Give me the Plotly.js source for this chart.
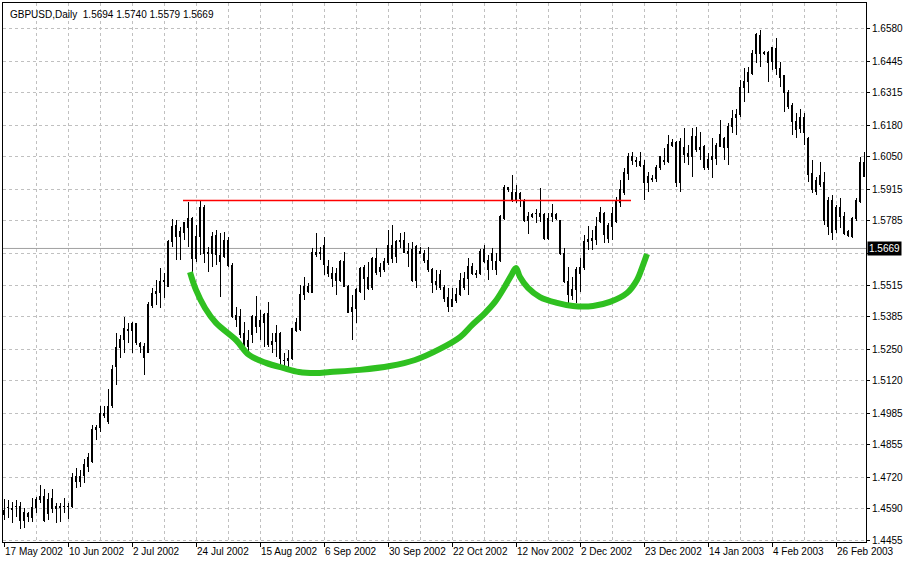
<!DOCTYPE html>
<html>
<head>
<meta charset="utf-8">
<script src="https://cdn.plot.ly/plotly-3.0.1.min.js"></script>
<style>
html,body{margin:0;padding:0;background:#fff;}
#chart{width:907px;height:562px;}
.boxlayer path{shape-rendering:crispEdges;}
</style>
</head>
<body>
<div id="chart"></div>
<script>
// Daily GBPUSD bars, 17 May 2002 .. early Mar 2003 (bar index 0..215)
const openP = [
1.4563,1.4592,1.4588,1.4596,1.4596,1.4542,1.4567,1.4551,1.4592,1.4629,
1.4638,1.4571,1.4633,1.4596,1.4592,1.4596,1.4598,1.4596,1.4721,1.4700,
1.4725,1.4762,1.4783,1.4924,1.4924,1.4986,1.4949,1.5019,1.5177,1.5256,
1.5293,1.5331,1.5327,1.5356,1.5273,1.5260,1.5239,1.5434,1.5480,1.5488,
1.5530,1.5513,1.5696,1.5766,1.5717,1.5737,1.5754,1.5795,1.5629,1.5717,
1.5841,1.5654,1.5646,1.5721,1.5638,1.5634,1.5704,1.5600,1.5389,1.5385,
1.5318,1.5289,1.5310,1.5385,1.5343,1.5360,1.5401,1.5281,1.5281,1.5318,
1.5206,1.5202,1.5214,1.5327,1.5331,1.5476,1.5492,1.5488,1.5642,1.5646,
1.5683,1.5592,1.5567,1.5563,1.5538,1.5613,1.5509,1.5409,1.5418,1.5492,
1.5588,1.5550,1.5505,1.5629,1.5575,1.5580,1.5609,1.5683,1.5634,1.5704,
1.5704,1.5650,1.5663,1.5538,1.5658,1.5650,1.5621,1.5580,1.5530,1.5559,
1.5505,1.5467,1.5430,1.5455,1.5476,1.5546,1.5546,1.5596,1.5567,1.5567,
1.5663,1.5621,1.5650,1.5580,1.5621,1.5795,1.5920,1.5870,1.5903,1.5878,
1.5870,1.5787,1.5800,1.5816,1.5816,1.5808,1.5712,1.5816,1.5795,1.5783,
1.5650,1.5530,1.5472,1.5497,1.5567,1.5588,1.5696,1.5700,1.5708,1.5779,
1.5816,1.5712,1.5762,1.5779,1.5858,1.5903,1.5982,1.6032,1.6036,1.6028,
1.6015,1.5941,1.5957,1.5961,1.6003,1.6036,1.6028,1.6107,1.6107,1.5941,
1.6090,1.6065,1.6049,1.6132,1.6086,1.6094,1.6003,1.6049,1.6044,1.6094,
1.6127,1.6090,1.6177,1.6214,1.6223,1.6339,1.6360,1.6397,1.6480,1.6551,
1.6476,1.6484,1.6443,1.6497,1.6414,1.6385,1.6318,1.6264,1.6194,1.6165,
1.6214,1.6127,1.5982,1.5907,1.5970,1.5941,1.5758,1.5870,1.5746,1.5837,
1.5800,1.5741,1.5717,1.5795,1.5862,1.6024];
const highP = [
1.4630,1.4625,1.4617,1.4625,1.4617,1.4592,1.4575,1.4633,1.4638,1.4687,
1.4671,1.4654,1.4671,1.4613,1.4613,1.4633,1.4613,1.4737,1.4758,1.4750,
1.4795,1.4820,1.4936,1.4936,1.5015,1.5015,1.5086,1.5185,1.5319,1.5310,
1.5385,1.5360,1.5364,1.5360,1.5281,1.5277,1.5447,1.5505,1.5538,1.5588,
1.5567,1.5704,1.5791,1.5787,1.5758,1.5779,1.5862,1.5800,1.5766,1.5870,
1.5849,1.5675,1.5737,1.5746,1.5733,1.5737,1.5717,1.5609,1.5426,1.5418,
1.5364,1.5331,1.5393,1.5472,1.5414,1.5401,1.5447,1.5318,1.5351,1.5322,
1.5235,1.5248,1.5339,1.5380,1.5517,1.5550,1.5526,1.5671,1.5733,1.5675,
1.5717,1.5621,1.5592,1.5588,1.5621,1.5654,1.5517,1.5476,1.5505,1.5592,
1.5600,1.5613,1.5634,1.5671,1.5609,1.5629,1.5746,1.5766,1.5704,1.5733,
1.5737,1.5692,1.5696,1.5683,1.5675,1.5663,1.5675,1.5588,1.5580,1.5580,
1.5517,1.5505,1.5505,1.5505,1.5567,1.5571,1.5629,1.5609,1.5580,1.5667,
1.5683,1.5642,1.5671,1.5650,1.5808,1.5932,1.5924,1.5974,1.5932,1.5903,
1.5874,1.5820,1.5816,1.5833,1.5920,1.5816,1.5816,1.5853,1.5816,1.5787,
1.5671,1.5592,1.5550,1.5592,1.5629,1.5725,1.5762,1.5746,1.5800,1.5841,
1.5820,1.5775,1.5841,1.5882,1.5953,1.6003,1.6065,1.6069,1.6049,1.6069,
1.6036,1.5986,1.5974,1.6015,1.6049,1.6086,1.6140,1.6123,1.6115,1.6127,
1.6169,1.6098,1.6169,1.6173,1.6152,1.6098,1.6065,1.6127,1.6107,1.6202,
1.6131,1.6190,1.6244,1.6248,1.6368,1.6418,1.6422,1.6493,1.6563,1.6575,
1.6488,1.6488,1.6505,1.6542,1.6443,1.6389,1.6327,1.6273,1.6231,1.6248,
1.6231,1.6131,1.6036,1.5966,1.6028,1.5986,1.5882,1.5891,1.5849,1.5878,
1.5820,1.5746,1.5800,1.5878,1.6049,1.6069];
const lowP = [
1.4542,1.4551,1.4530,1.4555,1.4505,1.4509,1.4534,1.4534,1.4571,1.4613,
1.4534,1.4542,1.4571,1.4530,1.4534,1.4571,1.4546,1.4592,1.4675,1.4679,
1.4696,1.4741,1.4779,1.4874,1.4907,1.4965,1.4940,1.5007,1.5102,1.5214,
1.5235,1.5277,1.5235,1.5269,1.5235,1.5144,1.5235,1.5422,1.5434,1.5422,
1.5463,1.5509,1.5675,1.5621,1.5621,1.5704,1.5675,1.5571,1.5613,1.5642,
1.5609,1.5571,1.5592,1.5600,1.5468,1.5629,1.5592,1.5381,1.5343,1.5297,
1.5252,1.5239,1.5277,1.5318,1.5289,1.5260,1.5260,1.5235,1.5218,1.5177,
1.5177,1.5177,1.5206,1.5322,1.5327,1.5455,1.5484,1.5484,1.5634,1.5621,
1.5559,1.5550,1.5509,1.5476,1.5530,1.5509,1.5401,1.5289,1.5360,1.5484,
1.5455,1.5497,1.5497,1.5559,1.5550,1.5571,1.5600,1.5609,1.5609,1.5671,
1.5650,1.5592,1.5530,1.5505,1.5646,1.5609,1.5571,1.5484,1.5497,1.5497,
1.5447,1.5405,1.5426,1.5443,1.5472,1.5497,1.5476,1.5559,1.5546,1.5559,
1.5609,1.5538,1.5580,1.5559,1.5613,1.5787,1.5903,1.5862,1.5858,1.5841,
1.5779,1.5729,1.5795,1.5775,1.5779,1.5704,1.5704,1.5779,1.5787,1.5642,
1.5526,1.5443,1.5455,1.5443,1.5488,1.5580,1.5663,1.5663,1.5683,1.5775,
1.5692,1.5692,1.5704,1.5775,1.5841,1.5891,1.5953,1.6015,1.6007,1.6007,
1.5870,1.5903,1.5945,1.5945,1.5995,1.6015,1.6024,1.6090,1.5924,1.5903,
1.6024,1.6015,1.5966,1.6069,1.6036,1.5995,1.5995,1.5961,1.6015,1.6090,
1.6036,1.6015,1.6148,1.6140,1.6214,1.6277,1.6314,1.6389,1.6439,1.6422,
1.6472,1.6360,1.6410,1.6389,1.6339,1.6235,1.6248,1.6140,1.6127,1.6148,
1.6098,1.5945,1.5899,1.5891,1.5924,1.5766,1.5725,1.5704,1.5733,1.5754,
1.5725,1.5717,1.5712,1.5783,1.5858,1.5966];
const closeP = [
1.4580,1.4595,1.4586,1.4598,1.4542,1.4575,1.4555,1.4592,1.4629,1.4638,
1.4538,1.4629,1.4588,1.4588,1.4596,1.4598,1.4600,1.4717,1.4700,1.4721,
1.4774,1.4803,1.4916,1.4916,1.4986,1.4974,1.5015,1.5165,1.5256,1.5293,
1.5335,1.5327,1.5356,1.5277,1.5260,1.5218,1.5438,1.5480,1.5492,1.5530,
1.5538,1.5696,1.5762,1.5717,1.5741,1.5775,1.5795,1.5629,1.5717,1.5841,
1.5650,1.5646,1.5717,1.5642,1.5613,1.5704,1.5600,1.5385,1.5376,1.5310,
1.5256,1.5260,1.5385,1.5343,1.5368,1.5393,1.5269,1.5269,1.5318,1.5214,
1.5202,1.5214,1.5335,1.5360,1.5476,1.5509,1.5509,1.5654,1.5654,1.5654,
1.5604,1.5567,1.5546,1.5538,1.5613,1.5513,1.5405,1.5422,1.5497,1.5584,
1.5546,1.5501,1.5629,1.5571,1.5588,1.5613,1.5683,1.5629,1.5696,1.5696,
1.5654,1.5658,1.5538,1.5675,1.5650,1.5621,1.5580,1.5526,1.5521,1.5505,
1.5463,1.5426,1.5459,1.5476,1.5538,1.5505,1.5596,1.5567,1.5559,1.5658,
1.5613,1.5580,1.5621,1.5613,1.5800,1.5920,1.5912,1.5903,1.5870,1.5899,
1.5787,1.5800,1.5808,1.5812,1.5800,1.5712,1.5795,1.5800,1.5808,1.5650,
1.5530,1.5476,1.5497,1.5580,1.5588,1.5696,1.5708,1.5712,1.5762,1.5820,
1.5725,1.5766,1.5816,1.5862,1.5912,1.5986,1.6049,1.6049,1.6028,1.6015,
1.5941,1.5966,1.5961,1.6003,1.6049,1.6028,1.6102,1.6098,1.5941,1.6111,
1.6057,1.6049,1.6132,1.6078,1.6078,1.6003,1.6040,1.6040,1.6098,1.6140,
1.6086,1.6177,1.6210,1.6223,1.6339,1.6360,1.6401,1.6480,1.6555,1.6480,
1.6484,1.6439,1.6501,1.6414,1.6380,1.6318,1.6260,1.6194,1.6161,1.6214,
1.6152,1.5974,1.5912,1.5953,1.5936,1.5787,1.5870,1.5737,1.5841,1.5800,
1.5733,1.5721,1.5795,1.5866,1.6024,1.5966];

// x-axis labels (bar index where each date label sits)
const dateTickIndex = [0,16,32,48,64,80,96,112,128,144,160,176,192,208];
const dateTickText = ["17 May 2002","10 Jun 2002","2 Jul 2002","24 Jul 2002","15 Aug 2002","6 Sep 2002","30 Sep 2002","22 Oct 2002","12 Nov 2002","2 Dec 2002","23 Dec 2002","14 Jan 2003","4 Feb 2003","26 Feb 2003"];

// price scale labels (1.5650 sits under the current-price box)
const priceTicks = [1.6580,1.6445,1.6315,1.6180,1.6050,1.5915,1.5785,1.5650,1.5515,1.5385,1.5250,1.5120,1.4985,1.4855,1.4720,1.4590,1.4455];
const priceTickText = ["1.6580","1.6445","1.6315","1.6180","1.6050","1.5915","1.5785","","1.5515","1.5385","1.5250","1.5120","1.4985","1.4855","1.4720","1.4590","1.4455"];

// header / current bar values
const symbolName = "GBPUSD,Daily";
const currentOHLC = [1.5694, 1.5740, 1.5579, 1.5669];
const currentPrice = 1.5669;

// resistance (neckline) drawn in red
const necklineX = [44.75, 156.75];
const necklineY = [1.5868, 1.5868];

// hand-drawn cup & handle curve (green)
const cupX = [46.5,48,50.25,53,58,61.25,65.5,69.75,73.75,78,81.5,89,96.5,102.75,109,114,117,120.25,122.75,125,126.75,128,129,131,134,138.25,142.25,147.25,151.5,155.75,158.25,159.75,160.75];
const cupY = [1.5571,1.5497,1.5422,1.5360,1.5289,1.5227,1.5194,1.5173,1.5156,1.5152,1.5156,1.5165,1.5181,1.5206,1.5252,1.5301,1.5351,1.5401,1.5447,1.5505,1.5555,1.5588,1.5550,1.5505,1.5467,1.5443,1.5430,1.5430,1.5447,1.5484,1.5538,1.5600,1.5646];

const barIndex = openP.map((_, i) => i);
const FONT = "Liberation Sans, Arial, sans-serif";
const GRID = "#c0c0c0";

const traces = [
  {
    type: "candlestick",
    x: barIndex, open: openP, high: highP, low: lowP, close: closeP,
    increasing: {line: {color: "#000000", width: 1}, fillcolor: "#ffffff"},
    decreasing: {line: {color: "#000000", width: 1}, fillcolor: "#000000"},
    whiskerwidth: 0,
    hoverinfo: "skip",
    showlegend: false
  },
  {
    type: "scatter", mode: "lines",
    x: necklineX, y: necklineY,
    line: {color: "#ff0000", width: 1.6},
    hoverinfo: "skip", showlegend: false
  },
  {
    type: "scatter", mode: "lines",
    x: cupX, y: cupY,
    line: {color: "#2fc020", width: 6, shape: "spline", smoothing: 1},
    hoverinfo: "skip", showlegend: false
  }
];

const layout = {
  width: 907, height: 562,
  margin: {l: 3, r: 41, t: 3, b: 20, pad: 0},
  paper_bgcolor: "#ffffff",
  plot_bgcolor: "#ffffff",
  showlegend: false,
  font: {family: FONT, size: 10, color: "#000000"},
  xaxis: {
    type: "linear",
    range: [-0.25, 215.5],
    rangeslider: {visible: false},
    tickmode: "array",
    tickvals: dateTickIndex,
    ticktext: dateTickText,
    tickangle: 0,
    ticks: "outside", ticklen: 4, tickcolor: "#000000", tickwidth: 1,
    ticklabelposition: "outside right",
    tickfont: {family: FONT, size: 10, color: "#000000"},
    showgrid: true, gridcolor: GRID, griddash: "3px,3px", gridwidth: 1,
    minor: {tickmode: "linear", tick0: 0, dtick: 8, showgrid: true, gridcolor: GRID, griddash: "3px,3px", ticks: ""},
    showline: true, linecolor: "#000000", linewidth: 1, mirror: true,
    zeroline: false, fixedrange: true
  },
  yaxis: {
    side: "right",
    range: [1.44507, 1.66876],
    tickmode: "array",
    tickvals: priceTicks,
    ticktext: priceTickText,
    ticks: "outside", ticklen: 3, tickcolor: "#000000",
    tickfont: {family: FONT, size: 10, color: "#000000"},
    showgrid: true, gridcolor: GRID, griddash: "3px,3px", gridwidth: 1,
    showline: true, linecolor: "#000000", linewidth: 1, mirror: true,
    zeroline: false, fixedrange: true
  },
  shapes: [
    {type: "line", xref: "paper", x0: 0, x1: 1, yref: "y", y0: currentPrice, y1: currentPrice,
     line: {color: "#a0a0a0", width: 1}, layer: "below"}
  ],
  annotations: [
    {xref: "paper", yref: "paper", x: 0, y: 1, xanchor: "left", yanchor: "top", xshift: 5, yshift: -4,
     text: symbolName + "  " + currentOHLC.map(v => v.toFixed(4)).join(" "),
     showarrow: false, font: {family: FONT, size: 10, color: "#000000"}},
    {xref: "paper", yref: "y", x: 1, y: currentPrice, xanchor: "left", yanchor: "middle", xshift: 1,
     text: currentPrice.toFixed(4), showarrow: false, bgcolor: "#000000", borderpad: 1,
     font: {family: FONT, size: 10, color: "#ffffff"}}
  ]
};

Plotly.newPlot("chart", traces, layout, {staticPlot: true, displayModeBar: false});
</script>
</body>
</html>
